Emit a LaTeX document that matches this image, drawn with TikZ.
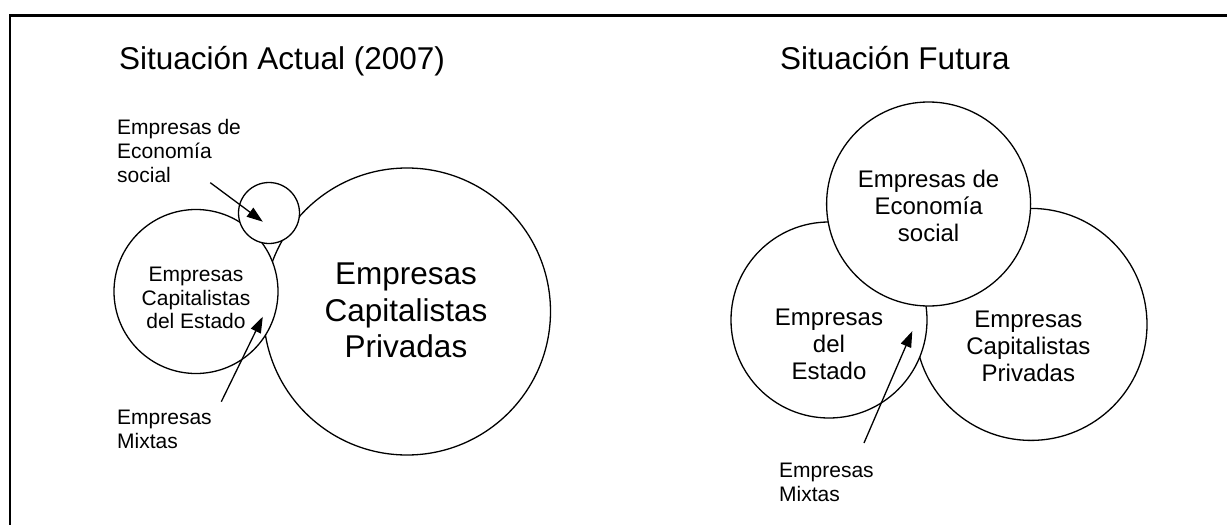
\documentclass[tikz,border=0pt]{standalone}
\usepackage{fontspec}
\setmainfont{Liberation Sans}
\usetikzlibrary{arrows.meta}
\begin{document}
\begin{tikzpicture}[x=1pt,y=-1pt,
  circ/.style={circle,draw,fill=white,line width=1.3pt,inner sep=0pt},
  arr/.style={line width=1.3pt,-{Triangle[length=16pt,width=11pt]}},
  frameline/.style={line width=2.3pt},
  ttl/.style={inner sep=0pt,anchor=base west,font=\fontsize{31.5}{36}\selectfont},
  sA/.style={inner sep=0pt,font=\fontsize{21}{24}\selectfont},
  sB/.style={inner sep=0pt,font=\fontsize{21}{23.5}\selectfont},
  sC/.style={inner sep=0pt,font=\fontsize{24}{27}\selectfont},
  sD/.style={inner sep=0pt,font=\fontsize{31.5}{36.5}\selectfont}]
\useasboundingbox (0,0) rectangle (1227,525);
% frame
\draw[frameline] (10,525) -- (10,15.5) -- (1227,15.5);

% titles
\node[ttl] (t1) at (119,69.3) {Situación Actual (2007)};
\node[ttl] (t2) at (780,69.3) {Situación Futura};

% left diagram circles
\node[circ,minimum size=287pt] (cPriv) at (407,311.5) {};
\node[circ,minimum size=164pt] (cEst) at (196,291.5) {};
\node[circ,minimum size=61pt] (cEco) at (269,213) {};

\node[sD,anchor=base] (tPriv) at (406,284.5) {\begin{tabular}[t]{@{}c@{}}Empresas\\Capitalistas\\Privadas\end{tabular}};
\node[sB,anchor=base] (tEst) at (196,281.5) {\begin{tabular}[t]{@{}c@{}}Empresas\\Capitalistas\\del Estado\end{tabular}};
\node[sA,anchor=base west] (lEco) at (117,134) {\begin{tabular}[t]{@{}l@{}}Empresas de\\Economía\\social\end{tabular}};
\node[sA,anchor=base west] (lMix) at (117,424.5) {\begin{tabular}[t]{@{}l@{}}Empresas\\Mixtas\end{tabular}};

\coordinate (a1s) at (210.3,182.7);
\coordinate (a1t) at (262.8,221.7);
\coordinate (a2s) at (221.3,401.7);
\coordinate (a2t) at (262.8,316.7);
\draw[arr] (a1s) -- (a1t);
\draw[arr] (a2s) -- (a2t);

% right diagram circles
\node[circ,minimum size=232pt] (fPriv) at (1031,324.4) {};
\node[circ,minimum size=196pt] (fEst) at (829,320) {};
\node[circ,minimum size=204pt] (fEco) at (928.6,204) {};

\node[sC,anchor=base] (tfEco) at (928.6,187.8) {\begin{tabular}[t]{@{}c@{}}Empresas de\\Economía\\social\end{tabular}};
\node[sC,anchor=base] (tfEst) at (829,325) {\begin{tabular}[t]{@{}c@{}}Empresas\\del\\Estado\end{tabular}};
\node[sC,anchor=base] (tfPriv) at (1028.4,327.2) {\begin{tabular}[t]{@{}c@{}}Empresas\\Capitalistas\\Privadas\end{tabular}};
\node[sA,anchor=base west] (lfMix) at (779,477) {\begin{tabular}[t]{@{}l@{}}Empresas\\Mixtas\end{tabular}};

\coordinate (a3s) at (864,443);
\coordinate (a3t) at (912.3,331.1);
\draw[arr] (a3s) -- (a3t);
\end{tikzpicture}
\end{document}
